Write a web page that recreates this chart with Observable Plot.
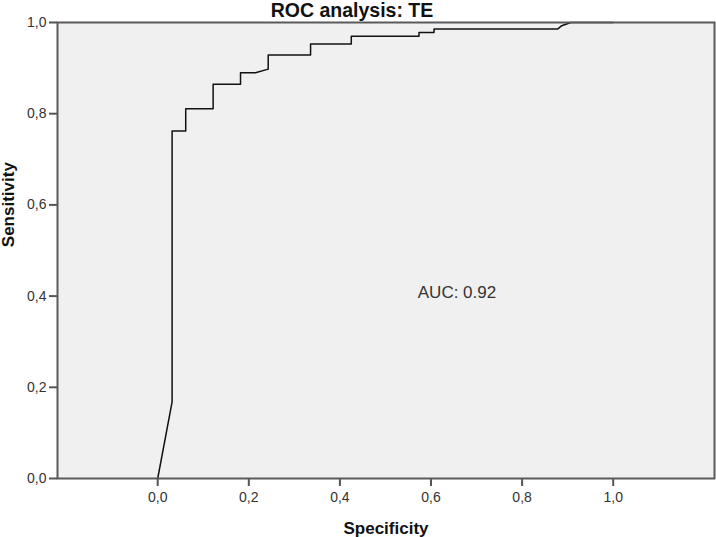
<!DOCTYPE html>
<html>
<head>
<meta charset="utf-8">
<script src="https://cdn.jsdelivr.net/npm/d3@7"></script>
<script src="https://cdn.jsdelivr.net/npm/@observablehq/plot@0.6"></script>
<style>
  html, body { margin: 0; padding: 0; background: #fff; }
</style>
</head>
<body>
<div id="chart"></div>
<script>
// ROC curve points
const specificity = [0, 0.0316, 0.0316, 0.0615, 0.0615, 0.1217, 0.1217, 0.1818, 0.1818, 0.2147, 0.2426, 0.2426, 0.3356, 0.3356, 0.425, 0.425, 0.5736, 0.5736, 0.6066, 0.6066, 0.878, 0.887, 0.907, 1.0];
const sensitivity = [0, 0.168, 0.762, 0.762, 0.8106, 0.8106, 0.8648, 0.8648, 0.890, 0.890, 0.8977, 0.929, 0.929, 0.953, 0.953, 0.970, 0.970, 0.978, 0.978, 0.9855, 0.9855, 0.993, 1.0, 1.0];
const tickValues = [0, 0.2, 0.4, 0.6, 0.8, 1.0];
const titleText = "ROC analysis: TE";
const xLabel = "Specificity";
const yLabel = "Sensitivity";
const aucText = "AUC: 0.92";

const points = specificity.map((x, i) => ({x, y: sensitivity[i]}));
const fmt = d => d.toFixed(1).replace(".", ",");

const chart = Plot.plot({
  width: 716,
  height: 537,
  marginTop: 22,
  marginLeft: 57,
  marginRight: 2,
  marginBottom: 59,
  style: {fontFamily: "'Liberation Sans', Arial, sans-serif", fontSize: "14px", color: "#333", background: "#fff"},
  x: {domain: [-0.22, 1.2224]},
  y: {domain: [0, 1]},
  marks: [
    Plot.frame({fill: "#f0f0f0", stroke: null}),
    Plot.axisX({ticks: tickValues, tickFormat: fmt, tickSize: 8, tickPadding: 6, label: null, stroke: "#555", strokeWidth: 2, fill: "#333"}),
    Plot.axisY({ticks: tickValues, tickFormat: fmt, tickSize: 8, tickPadding: 3, label: null, stroke: "#555", strokeWidth: 2, fill: "#333"}),
    Plot.line(points, {x: "x", y: "y", stroke: "#111", strokeWidth: 1.5, curve: "linear"}),
    Plot.frame({stroke: "#5a5a5a", strokeWidth: 2}),
    Plot.text([aucText], {frameAnchor: "middle", dx: 71, dy: 41.6, lineAnchor: "middle", fontSize: 17, fill: "#333"}),
    Plot.text([titleText], {frameAnchor: "top", dx: -34, dy: -11.8, lineAnchor: "middle", fontSize: 19.5, fontWeight: "bold", fill: "#111"}),
    Plot.text([xLabel], {frameAnchor: "bottom", dy: 49.6, lineAnchor: "middle", fontSize: 17, fontWeight: "bold", fill: "#111"}),
    Plot.text([yLabel], {frameAnchor: "left", dx: -49, dy: -3.3, rotate: -90, lineAnchor: "middle", fontSize: 17, fontWeight: "bold", fill: "#111"})
  ]
});
document.getElementById("chart").appendChild(chart);
</script>
</body>
</html>
